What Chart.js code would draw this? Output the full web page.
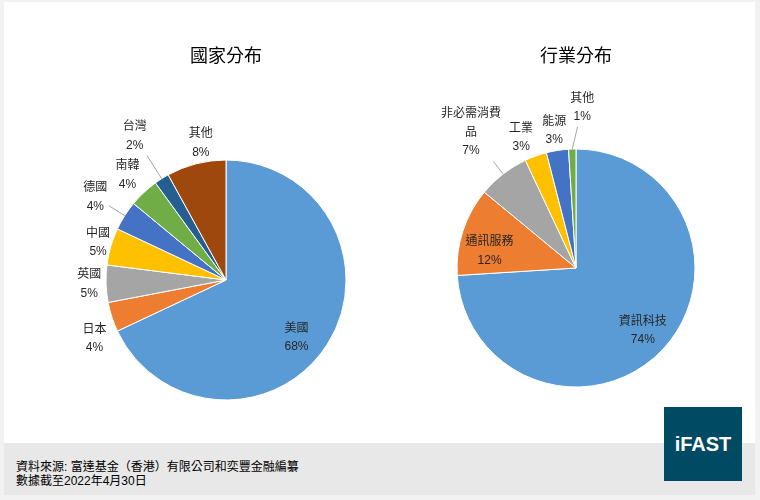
<!DOCTYPE html>
<html>
<head>
<meta charset="utf-8">
<script src="https://cdn.jsdelivr.net/npm/chart.js@4"></script>
<style>
  body { margin: 0; background: #f2f2f2; width: 760px; height: 500px; overflow: hidden; }
  #panel { position: absolute; left: 4px; top: 2px; width: 751px; height: 493px; background: #fff; }
  #foot { position: absolute; left: 4px; top: 443px; width: 751px; height: 52px; background: #e8e8e8; }
  #foot div { position: absolute; left: 12px; font: 12px "Liberation Sans", "Noto Sans CJK TC", sans-serif; color: #000; white-space: nowrap; }
  #logo { position: absolute; left: 664px; top: 407px; width: 78px; height: 74px; background: #004a63;
          color: #fff; font: bold 20px "Liberation Sans", Arial, sans-serif; text-align: center; line-height: 74px; }
  canvas { position: absolute; top: 0; }
</style>
</head>
<body>
<div id="panel"></div>
<div id="foot">
  <div style="top:14px">資料來源: 富達基金（香港）有限公司和奕豐金融編纂</div>
  <div style="top:28px">數據截至2022年4月30日</div>
</div>
<div id="logo">iFAST</div>
<canvas id="countryChart" width="380" height="440" style="left:0"></canvas>
<canvas id="sectorChart" width="380" height="440" style="left:380px"></canvas>
<script>
// 數據 ====================================
const countryLabels = ["美國", "日本", "英國", "中國", "德國", "南韓", "台灣", "其他"];
const countryValues = [68, 4, 5, 5, 4, 4, 2, 8];

const sectorLabels = ["資訊科技", "通訊服務", "非必需消費品", "工業", "能源", "其他"];
const sectorValues = [74, 12, 7, 3, 3, 1];

const sliceColors = ["#5b9bd5", "#ed7d31", "#a5a5a5", "#ffc000", "#4472c4", "#70ad47", "#255e91", "#9e480e"];

const labelFont = '12px "Liberation Sans", "Noto Sans CJK TC", sans-serif';

// 標籤 plugin : 名稱 + 百分比, 細小的扇形加引線
const sliceLabels = {
  id: "sliceLabels",
  afterDatasetsDraw(chart, args, opts) {
    const ctx = chart.ctx;
    const ds = chart.data.datasets[0];
    const arcs = chart.getDatasetMeta(0).data;
    ctx.save();
    ctx.font = labelFont;
    ctx.textAlign = "center";
    ctx.textBaseline = "middle";
    arcs.forEach((arc, i) => {
      const p = arc.getProps(["x", "y", "startAngle", "endAngle", "outerRadius"], true);
      const mid = (p.startAngle + p.endAngle) / 2 + (opts.nudge[i] || 0) * Math.PI / 180;
      const cx = p.x + Math.cos(mid) * p.outerRadius * opts.radius[i];
      const cy = p.y + Math.sin(mid) * p.outerRadius * opts.radius[i];

      // 名稱太長就換行
      const name = chart.data.labels[i];
      const lines = [];
      for (let k = 0; k < name.length; k += 5) lines.push(name.slice(k, k + 5));
      lines.push(ds.data[i] + "%");

      const lh = 18.5;
      let w = 0;
      lines.forEach((t) => { w = Math.max(w, ctx.measureText(t).width); });

      if (opts.leader[i]) {
        const midA = (p.startAngle + p.endAngle) / 2;
        const ex = p.x + Math.cos(midA) * p.outerRadius;
        const ey = p.y + Math.sin(midA) * p.outerRadius;
        const dx = ex - cx, dy = ey - cy;
        const hw = w / 2 + 2, hh = (lines.length * lh) / 2 + 1;
        const t = Math.min(dx ? hw / Math.abs(dx) : 1e9, dy ? hh / Math.abs(dy) : 1e9);
        ctx.strokeStyle = "#a6a6a6";
        ctx.lineWidth = 1;
        ctx.beginPath();
        ctx.moveTo(cx + dx * t, cy + dy * t);
        ctx.lineTo(ex, ey);
        ctx.stroke();
      }

      ctx.fillStyle = "#262626";
      lines.forEach((t, k) => {
        ctx.fillText(t, cx, cy + (k - (lines.length - 1) / 2) * lh);
      });
    });
    ctx.restore();
  },
};

function makePie(domId, title, labels, values, pad, titlePad, labelOpts) {
  const area = document.getElementById(domId).getContext("2d");
  return new Chart(area, {
    type: "pie",
    data: {
      labels: labels,
      datasets: [
        {
          data: values,
          backgroundColor: sliceColors.slice(0, values.length),
          borderColor: "#ffffff",
          borderWidth: 1,
        },
      ],
    },
    options: {
      responsive: false,
      animation: false,
      layout: { padding: pad },
      plugins: {
        legend: { display: false },
        tooltip: { enabled: false },
        title: {
          display: true,
          text: title,
          color: "#000000",
          font: { size: 18, weight: "normal", family: '"Noto Sans CJK TC", sans-serif' },
          padding: titlePad,
        },
        sliceLabels: labelOpts,
      },
    },
    plugins: [sliceLabels],
  });
}

makePie(
  "countryChart",
  "國家分布",
  countryLabels,
  countryValues,
  { left: 105.5, right: 33.5, top: 0, bottom: 39.5 },
  { top: 44, bottom: 93.9 },
  {
    radius: [0.76, 1.2, 1.14, 1.11, 1.29, 1.2, 1.42, 1.16],
    nudge: [7, -6, 0, 0, 0, 0, 0, 4],
    leader: [false, false, false, false, true, false, true, false],
  }
);

makePie(
  "sectorChart",
  "行業分布",
  sectorLabels,
  sectorValues,
  { left: 76.5, right: 64.5, top: 0, bottom: 52.5 },
  { top: 44, bottom: 82.9 },
  {
    radius: [0.77, 0.74, 1.44, 1.19, 1.17, 1.35],
    nudge: [0, -7, 0, -3, 0, 4],
    leader: [false, false, true, false, false, true],
  }
);
</script>
</body>
</html>
